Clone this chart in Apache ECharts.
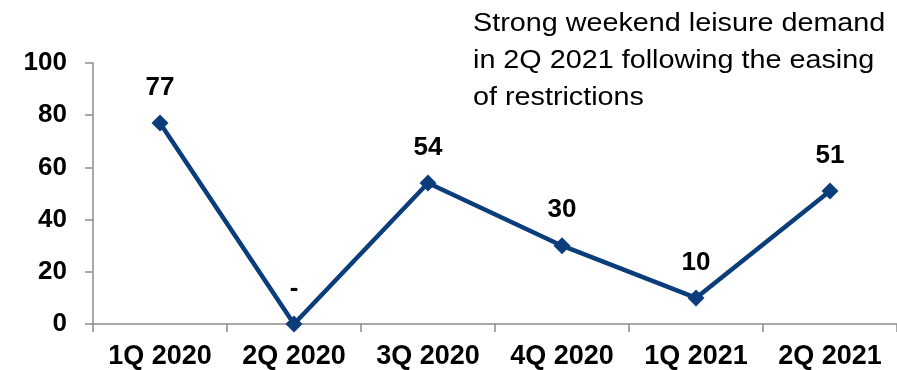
<!DOCTYPE html>
<html>
<head>
<meta charset="utf-8">
<script src="https://cdn.jsdelivr.net/npm/echarts@6/dist/echarts.min.js"></script>
<style>
  html, body { margin: 0; padding: 0; background: #fff; }
  #chart { width: 897px; height: 370px; }
</style>
</head>
<body>
<div id="chart"></div>
<script>
// Quarterly index values, one per category
const quarters = ['1Q 2020', '2Q 2020', '3Q 2020', '4Q 2020', '1Q 2021', '2Q 2021'];
const values = [77, 0, 54, 30, 10, 51];
const valueLabels = ['77', '-', '54', '30', '10', '51'];
const yTicks = [0, 20, 40, 60, 80, 100];
const note = 'Strong weekend leisure demand\nin 2Q 2021 following the easing\nof restrictions';

const lineColor = '#0B3D7B';
const axisGrey = '#8C8C8C';
const font = 'Liberation Sans, Arial, sans-serif';

const chart = echarts.init(document.getElementById('chart'));
chart.setOption({
  animation: false,
  grid: { left: 93, right: 0, top: 63, bottom: 46, containLabel: false },
  graphic: [{
    type: 'text',
    x: 473,
    y: 6,
    scaleX: 1.15,
    style: {
      text: note,
      font: '25px ' + font,
      fill: '#000',
      lineHeight: 37
    }
  }],
  xAxis: {
    type: 'category',
    data: quarters,
    boundaryGap: true,
    axisLine: { lineStyle: { color: axisGrey, width: 1.5 } },
    axisTick: { show: true, interval: 0, length: 8, lineStyle: { color: axisGrey, width: 1.5 } },
    axisLabel: {
      interval: 0,
      hideOverlap: false,
      margin: 19,
      color: '#000',
      fontFamily: font,
      fontWeight: 'bold',
      fontSize: 27
    }
  },
  yAxis: {
    type: 'value',
    min: yTicks[0],
    max: yTicks[yTicks.length - 1],
    interval: yTicks[1] - yTicks[0],
    splitLine: { show: false },
    axisLine: { show: true, lineStyle: { color: axisGrey, width: 1.5 } },
    axisTick: { show: true, length: 8, lineStyle: { color: axisGrey, width: 1.5 } },
    axisLabel: {
      margin: 26,
      color: '#000',
      fontFamily: font,
      fontWeight: 'bold',
      fontSize: 26
    }
  },
  series: [{
    type: 'line',
    data: values,
    symbol: 'diamond',
    symbolSize: 17,
    itemStyle: { color: lineColor },
    lineStyle: { color: lineColor, width: 4.5 },
    label: {
      show: true,
      position: 'top',
      distance: 14,
      color: '#000',
      fontFamily: font,
      fontWeight: 'bold',
      fontSize: 26,
      formatter: p => valueLabels[p.dataIndex]
    }
  }]
});
</script>
</body>
</html>
